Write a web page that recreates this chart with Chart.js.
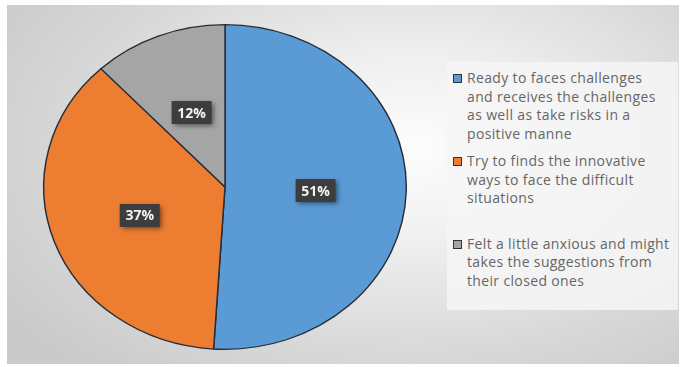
<!DOCTYPE html>
<html>
<head>
<meta charset="utf-8">
<script src="https://cdn.jsdelivr.net/npm/chart.js@4"></script>
<style>
  html, body { margin: 0; padding: 0; background: #fff; }
  body { width: 683px; height: 367px; position: relative; overflow: hidden; }
  #frame {
    position: absolute; left: 7px; top: 5px; width: 672px; height: 359px;
    background: radial-gradient(ellipse 72% 82% at 60% 40%, #fdfdfd 0%, #f0f0f0 30%, #d8d8d8 70%, #cacaca 100%);
  }
  #pieBox { position: absolute; left: 0; top: 0; width: 440px; height: 359px; }
  #legend {
    position: absolute; left: 440px; top: 57px; width: 231px; height: 248px;
    background: rgba(246,246,246,0.85);
    font-family: "Open Sans", sans-serif; font-size: 14px; letter-spacing: 0.35px; color: #666;
  }
  #legend ul { list-style: none; margin: 0; padding: 7px 0 0 6px; }
  #legend li { position: relative; padding-left: 14px; line-height: 18.5px; white-space: nowrap; }
  #legend li + li { margin-top: 9px; }
  #legend li:nth-child(3) { margin-top: 27px; }
  #legend li span.box {
    position: absolute; left: 0; top: 5px; width: 7px; height: 7px;
    border: 1px solid #333;
  }
</style>
</head>
<body>
<div id="frame">
  <div id="pieBox"><canvas id="pieChart"></canvas></div>
  <div id="legend"></div>
</div>
<script>
// categories (one entry per legend line)
const categories = [
  ["Ready to faces challenges", "and receives the challenges", "as well as take risks in a", "positive manne"],
  ["Try to finds the innovative", "ways to face the difficult", "situations"],
  ["Felt a little anxious and might", "takes the suggestions from", "their closed ones"]
];
const shares = [51, 37, 12];
const shareLabels = ["51%", "37%", "12%"];
const sliceColors = ["#5b9bd5", "#ed7d31", "#a5a5a5"];

// the pie is drawn a bit wider than tall
const stretchX = 182 / 163;

const ovalPie = {
  id: "ovalPie",
  beforeDatasetsDraw(chart) {
    const arc = chart.getDatasetMeta(0).data[0];
    const ctx = chart.ctx;
    ctx.save();
    ctx.translate(arc.x, arc.y);
    ctx.scale(stretchX, 1);
    ctx.translate(-arc.x, -arc.y);
  },
  afterDatasetsDraw(chart) {
    const ctx = chart.ctx;
    ctx.restore();

    // dark value boxes on each slice
    const meta = chart.getDatasetMeta(0);
    meta.data.forEach((arc, i) => {
      const p = arc.tooltipPosition();
      const x = arc.x + (p.x - arc.x) * stretchX;
      const y = p.y + 1;
      const w = 40, h = 23;
      ctx.save();
      ctx.shadowColor = "rgba(0,0,0,0.5)";
      ctx.shadowBlur = 5;
      ctx.shadowOffsetX = 2;
      ctx.shadowOffsetY = 2;
      ctx.fillStyle = "#3d3d3d";
      ctx.fillRect(x - w / 2, y - h / 2, w, h);
      ctx.restore();
      ctx.save();
      ctx.fillStyle = "#f2f2f2";
      ctx.font = "bold 14px 'Open Sans', sans-serif";
      ctx.textAlign = "center";
      ctx.textBaseline = "middle";
      ctx.fillText(shareLabels[i], x, y + 1);
      ctx.restore();
    });
  }
};

const chart = new Chart(document.getElementById("pieChart"), {
  type: "pie",
  data: {
    labels: categories,
    datasets: [{
      data: shares,
      backgroundColor: sliceColors,
      borderColor: "#262d38",
      borderWidth: 1.3
    }]
  },
  options: {
    responsive: true,
    maintainAspectRatio: false,
    animation: false,
    layout: { padding: { top: 19, bottom: 14, left: 0, right: 4 } },
    plugins: {
      legend: { display: false },
      tooltip: { enabled: false }
    }
  },
  plugins: [ovalPie]
});

// legend built from the chart's own legend items
const items = chart.options.plugins.legend.labels.generateLabels(chart);
const ul = document.createElement("ul");
items.forEach(item => {
  const li = document.createElement("li");
  const box = document.createElement("span");
  box.className = "box";
  box.style.background = item.fillStyle;
  li.appendChild(box);
  categories[item.index].forEach((line, j) => {
    if (j) li.appendChild(document.createElement("br"));
    li.appendChild(document.createTextNode(line));
  });
  ul.appendChild(li);
});
document.getElementById("legend").appendChild(ul);
</script>
</body>
</html>
